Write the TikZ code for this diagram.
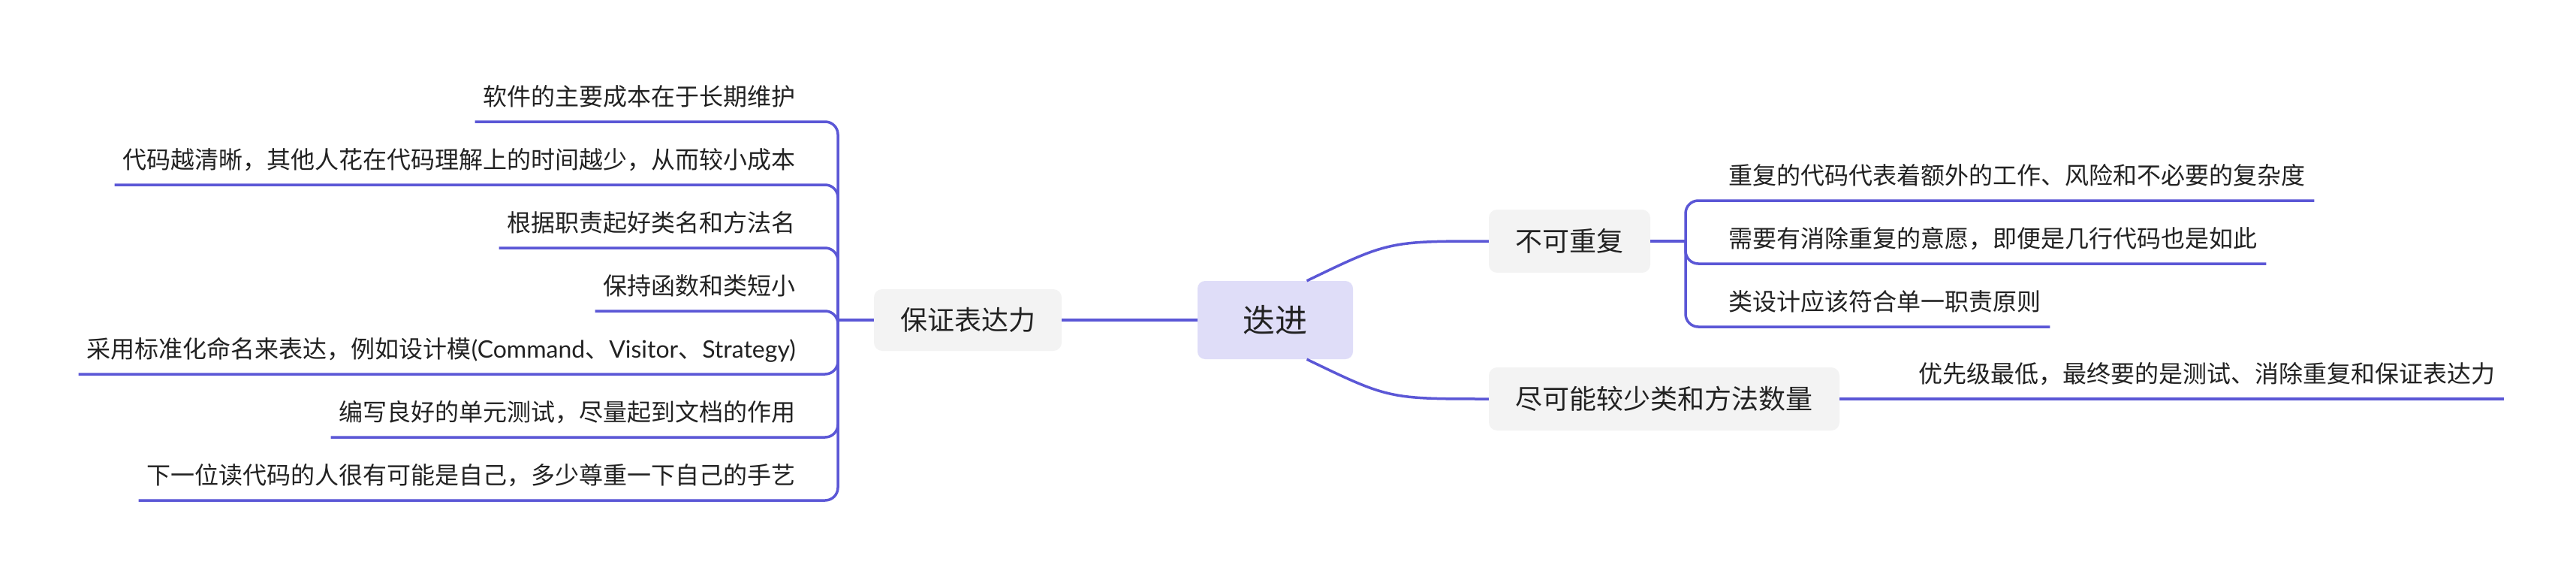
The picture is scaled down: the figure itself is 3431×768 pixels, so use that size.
\documentclass[tikz,border=0pt]{standalone}
\usepackage{fontspec}
\setmainfont{Noto Sans CJK SC}
\newfontfamily\cjk{Noto Sans CJK SC}
\newfontfamily\latinpart{Lato}
\definecolor{linec}{RGB}{91,87,214}
\definecolor{rootfill}{RGB}{223,221,248}
\definecolor{boxfill}{RGB}{243,243,243}
\definecolor{txt}{RGB}{34,34,34}
\newcommand{\leaffont}{\cjk\fontsize{32pt}{38pt}\selectfont}
\newcommand{\mainfont}{\cjk\fontsize{36pt}{42pt}\selectfont}
\newcommand{\rootfont}{\cjk\fontsize{43pt}{50pt}\selectfont}
\tikzset{
  conn/.style={draw=linec, line width=3.5pt},
  bracket/.style={draw=linec, line width=3.5pt, rounded corners=17pt},
  rootbox/.style={rectangle, rounded corners=10pt, fill=rootfill, text=txt, font=\rootfont, inner sep=0pt},
  topicbox/.style={rectangle, rounded corners=11pt, fill=boxfill, text=txt, font=\mainfont, inner sep=0pt},
  leaf/.style={inner sep=0pt, text depth=21pt, font=\leaffont, text=txt},
}
\begin{document}
\begin{tikzpicture}[x=1pt,y=-1pt]
\useasboundingbox (0,0) rectangle (3431,768);
\fill[white] (0,0) rectangle (3431,768);

% main nodes
\node[rootbox, minimum width=207pt, minimum height=104pt] (root) at (1698.5,426) {迭进};
\node[topicbox, minimum width=215pt, minimum height=84pt] (n1) at (2090.5,321) {不可重复};
\node[topicbox, minimum width=467pt, minimum height=84pt] (n2) at (2216.5,531) {尽可能较少类和方法数量};
\node[topicbox, minimum width=250pt, minimum height=82pt] (n3) at (1289,426) {保证表达力};

% root connectors
\draw[conn] (root.west) -- (n3.east);
\draw[conn] ([xshift=42pt]root.north) .. controls ([xshift=-133pt]n1.west) .. (n1.west);
\draw[conn] ([xshift=42pt]root.south) .. controls ([xshift=-133pt]n2.west) .. (n2.west);

% right group: 不可重复
\coordinate (jr) at (2245,321);
\node[leaf, anchor=south west] (r1) at (2302,267) {重复的代码代表着额外的工作、风险和不必要的复杂度};
\node[leaf, anchor=south west] (r2) at (2302,351) {需要有消除重复的意愿，即便是几行代码也是如此};
\node[leaf, anchor=south west] (r3) at (2302,435) {类设计应该符合单一职责原则};
\draw[conn] (n1.east) -- (jr);
\draw[bracket] (jr) |- ([xshift=12pt]r1.south east);
\draw[bracket] (jr) |- ([xshift=12pt]r2.south east);
\draw[bracket] (jr) |- ([xshift=12pt]r3.south east);

% right single: 尽可能较少类和方法数量
\node[leaf, anchor=south west] (r4) at (2555,531) {优先级最低，最终要的是测试、消除重复和保证表达力};
\draw[conn] (n2.east) -- ([xshift=12pt]r4.south east);

% left group: 保证表达力
\coordinate (jl) at (1116,426);
\node[leaf, anchor=south east] (l1) at (1060,162) {软件的主要成本在于长期维护};
\node[leaf, anchor=south east] (l2) at (1060,246) {代码越清晰，其他人花在代码理解上的时间越少，从而较小成本};
\node[leaf, anchor=south east] (l3) at (1060,330) {根据职责起好类名和方法名};
\node[leaf, anchor=south east] (l4) at (1060,414) {保持函数和类短小};
\node[leaf, anchor=south east] (l5) at (1060,498) {采用标准化命名来表达，例如设计模{\latinpart(Command}、{\latinpart Visitor}、{\latinpart Strategy)}};
\node[leaf, anchor=south east] (l6) at (1060,582) {编写良好的单元测试，尽量起到文档的作用};
\node[leaf, anchor=south east] (l7) at (1060,666) {下一位读代码的人很有可能是自己，多少尊重一下自己的手艺};
\draw[conn] (n3.west) -- (jl);
\draw[bracket] (jl) |- ([xshift=-11pt]l1.south west);
\draw[bracket] (jl) |- ([xshift=-11pt]l2.south west);
\draw[bracket] (jl) |- ([xshift=-11pt]l3.south west);
\draw[bracket] (jl) |- ([xshift=-11pt]l4.south west);
\draw[bracket] (jl) |- ([xshift=-11pt]l5.south west);
\draw[bracket] (jl) |- ([xshift=-11pt]l6.south west);
\draw[bracket] (jl) |- ([xshift=-11pt]l7.south west);
\end{tikzpicture}
\end{document}
